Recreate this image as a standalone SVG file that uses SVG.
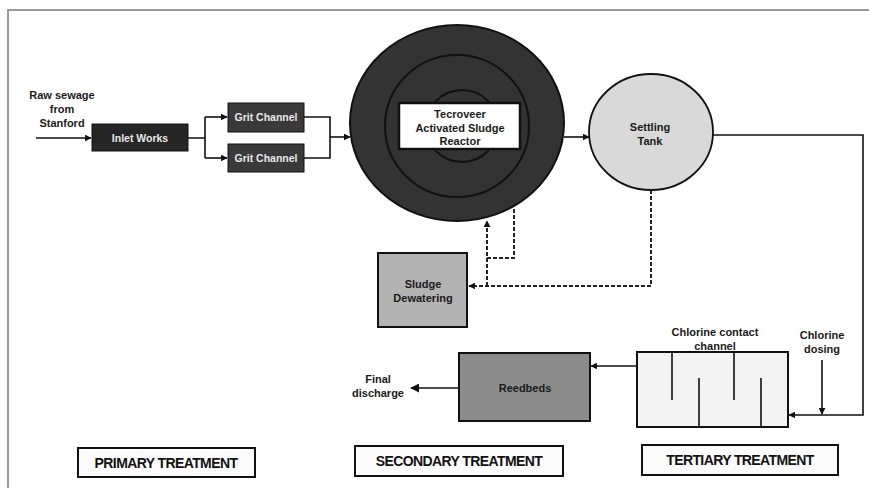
<svg xmlns="http://www.w3.org/2000/svg" width="869" height="489" viewBox="0 0 869 489">
<defs>
<marker id="ah" viewBox="0 0 10 10" refX="9" refY="5" markerWidth="7" markerHeight="7" markerUnits="userSpaceOnUse" orient="auto">
<path d="M0,0 L10,5 L0,10 z" fill="#111"/>
</marker>
<marker id="ahb" viewBox="0 0 10 10" refX="9" refY="5" markerWidth="9" markerHeight="9" markerUnits="userSpaceOnUse" orient="auto">
<path d="M0,0 L10,5 L0,10 z" fill="#111"/>
</marker>
</defs>
<style>
text{font-family:"Liberation Sans",Arial,sans-serif;font-weight:bold;text-anchor:middle}
.lbl{font-size:11px;fill:#1a1a1a}
.wt{font-size:10.5px;fill:#e8e8e8}
.ln{fill:none;stroke:#111;stroke-width:1.6}
.dash{fill:none;stroke:#222;stroke-width:2;stroke-dasharray:4 2}
.stage{fill:#fbfbfb;stroke:#111;stroke-width:2}
.stxt{font-size:14px;fill:#111;letter-spacing:-0.6px}
</style>
<rect width="869" height="489" fill="#ffffff"/>
<path d="M869,10 H8 V488" fill="none" stroke="#9a9a9a" stroke-width="2"/>

<g id="connectors">
<line class="ln" x1="36" y1="138" x2="91" y2="138" marker-end="url(#ah)"/>
<path class="ln" d="M188,138 H205 M205,117 V158"/>
<line class="ln" x1="205" y1="117" x2="227" y2="117" marker-end="url(#ah)"/>
<line class="ln" x1="205" y1="158" x2="227" y2="158" marker-end="url(#ah)"/>
<path class="ln" d="M304,117 H330 V158 H304"/>
<line class="ln" x1="330" y1="137" x2="350" y2="137" marker-end="url(#ah)"/>
<line class="ln" x1="564" y1="137" x2="589" y2="137" marker-end="url(#ah)"/>
<polyline class="ln" points="713,135 863,135 863,415 789,415" marker-end="url(#ah)"/>
<line class="ln" x1="822" y1="360" x2="822" y2="414" marker-end="url(#ah)"/>
<line class="ln" x1="637" y1="366" x2="591" y2="366" marker-end="url(#ah)"/>
<line class="ln" x1="459" y1="388" x2="411" y2="388" stroke-width="2" marker-end="url(#ahb)"/>
<polyline class="dash" points="651,190 651,286 469,286" marker-end="url(#ah)"/>
<line class="dash" x1="487" y1="286" x2="487" y2="221" marker-end="url(#ah)"/>
<polyline class="dash" points="514,209 514,258 487,258" stroke="#555"/>
</g>

<g id="raw-sewage">
<text class="lbl" x="62" y="99">Raw sewage</text>
<text class="lbl" x="62" y="113">from</text>
<text class="lbl" x="62" y="127">Stanford</text>
</g>

<g id="inlet-works">
<rect x="92" y="124" width="96" height="27" fill="#262626" stroke="#111" stroke-width="1"/>
<text class="wt" x="140" y="142">Inlet Works</text>
</g>

<g id="grit-channel-1">
<rect x="228" y="103" width="76" height="29" fill="#3a3a3a" stroke="#111" stroke-width="1"/>
<text class="wt" x="266" y="121">Grit Channel</text>
</g>
<g id="grit-channel-2">
<rect x="228" y="144" width="76" height="28" fill="#3a3a3a" stroke="#111" stroke-width="1"/>
<text class="wt" x="266" y="162">Grit Channel</text>
</g>

<g id="reactor">
<ellipse cx="457" cy="123" rx="107" ry="98" fill="#333333" stroke="#111" stroke-width="2"/>
<ellipse cx="457" cy="126" rx="72" ry="71" fill="none" stroke="#111" stroke-width="2"/>
<ellipse cx="462" cy="126" rx="36" ry="36" fill="none" stroke="#111" stroke-width="2"/>
<rect x="399" y="103" width="121" height="46" fill="#ffffff" stroke="#111" stroke-width="2.5"/>
<text class="lbl" x="460" y="118">Tecroveer</text>
<text class="lbl" x="460" y="132">Activated Sludge</text>
<text class="lbl" x="460" y="145">Reactor</text>
</g>

<g id="settling-tank">
<ellipse cx="651" cy="132" rx="62" ry="58" fill="#d9d9d9" stroke="#111" stroke-width="1.8"/>
<text class="lbl" x="650" y="131">Settling</text>
<text class="lbl" x="650" y="145">Tank</text>
</g>

<g id="sludge-dewatering">
<rect x="378" y="253" width="89" height="74" fill="#b3b3b3" stroke="#111" stroke-width="2"/>
<text class="lbl" x="423" y="288">Sludge</text>
<text class="lbl" x="423" y="302">Dewatering</text>
</g>

<g id="chlorine-contact-channel">
<rect x="637" y="352" width="151" height="75" fill="#f3f3f3" stroke="#111" stroke-width="2"/>
<path d="M672,352 V400 M734,352 V400 M699,427 V378 M761,427 V378" stroke="#111" stroke-width="1.6" fill="none"/>
<text class="lbl" x="715" y="336">Chlorine contact</text>
<text class="lbl" x="715" y="350">channel</text>
</g>

<g id="chlorine-dosing">
<text class="lbl" x="822" y="339">Chlorine</text>
<text class="lbl" x="822" y="353">dosing</text>
</g>

<g id="reedbeds">
<rect x="459" y="353" width="131" height="68" fill="#8c8c8c" stroke="#111" stroke-width="2"/>
<text class="lbl" x="525" y="392" fill="#333">Reedbeds</text>
</g>

<g id="final-discharge">
<text class="lbl" x="378" y="383">Final</text>
<text class="lbl" x="378" y="397">discharge</text>
</g>

<g id="primary-treatment">
<rect class="stage" x="78" y="448" width="177" height="29"/>
<text class="stxt" x="166" y="467.5">PRIMARY TREATMENT</text>
</g>
<g id="secondary-treatment">
<rect class="stage" x="355" y="446" width="208" height="30"/>
<text class="stxt" x="459" y="466">SECONDARY TREATMENT</text>
</g>
<g id="tertiary-treatment">
<rect class="stage" x="642" y="445" width="196" height="30"/>
<text class="stxt" x="740" y="465">TERTIARY TREATMENT</text>
</g>
</svg>
